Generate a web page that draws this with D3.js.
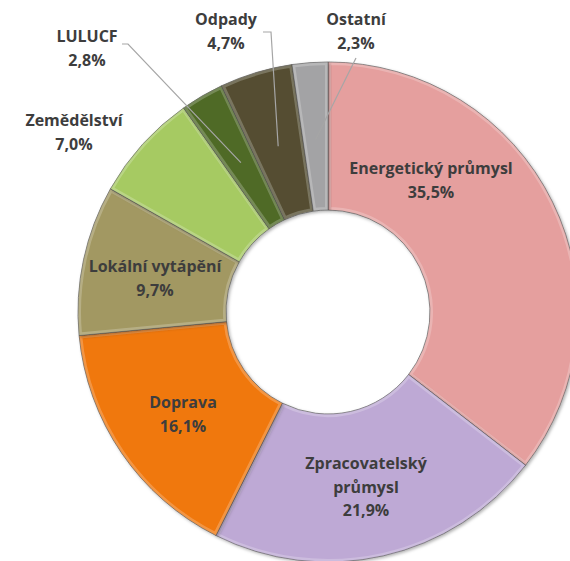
<!DOCTYPE html>
<html lang="cs">
<head>
    <meta charset="UTF-8">
    <title>Emise podle sektorů</title>
    <script src="https://d3js.org/d3.v7.min.js"></script>
    <style>
        body {
            margin: 0;
            background: #fff;
        }
        .label {
            font-family: "Open Sans", Lato, sans-serif;
            font-weight: bold;
            font-size: 16px;
            fill: #3d3d3d;
            text-anchor: middle;
        }
        .leader {
            fill: none;
            stroke: #a6a6a6;
            stroke-width: 1.2px;
        }
        .slice {
            stroke: rgba(60, 60, 60, 0.6);
            stroke-width: 1px;
        }
        .edge {
            fill: none;
            stroke: #ffffff;
            stroke-opacity: 0.22;
            stroke-width: 6px;
        }
    </style>
</head>
<body>
<div id="chart"></div>

<script>
    // data
    var sectors = ["Energetický průmysl", "Zpracovatelský průmysl", "Doprava", "Lokální vytápění",
                   "Zemědělství", "LULUCF", "Odpady", "Ostatní"];
    var shares = [35.5, 21.9, 16.1, 9.7, 7.0, 2.8, 4.7, 2.3];
    var colours = ["#e59f9e", "#bea9d5", "#f0780f", "#a29862", "#a6ca62", "#4f6a27", "#544d31", "#a3a3a5"];
    // how each label is broken into lines
    var labelLines = [["Energetický průmysl"], ["Zpracovatelský", "průmysl"], ["Doprava"], ["Lokální vytápění"],
                      ["Zemědělství"], ["LULUCF"], ["Odpady"], ["Ostatní"]];

    function init() {
        var w = 570;
        var h = 561;
        var cx = 328, cy = 312;
        var outerR = 250, innerR = 102;

        // label placement (first baseline), relative to the chart centre
        var labelAt = [[103, -138], [38, 157], [-145, 96], [-173, -40], [-254, -186], [-241, -270], [-102, -287], [28, -287]];
        // elbow of the leader lines for the outside labels (null = none)
        var elbows = [null, null, null, null, null, [[-206, -268], [-200, -268]], [[-65, -280], [-57, -280]], [[28, -254]]];

        var data = sectors.map(function(s, i) {
            return { name: s, value: shares[i], colour: colours[i], lines: labelLines[i], i: i };
        });

        var pie = d3.pie()
            .sort(null)
            .value(function(d) { return d.value; });

        var arc = d3.arc()
            .innerRadius(innerR)
            .outerRadius(outerR);

        var midArc = d3.arc()
            .innerRadius(173)
            .outerRadius(173);

        var svg = d3.select("#chart")
            .append("svg")
            .attr("width", w)
            .attr("height", h);

        var defs = svg.append("defs");
        var shadow = defs.append("filter")
            .attr("id", "shadow")
            .attr("x", "-10%").attr("y", "-10%")
            .attr("width", "120%").attr("height", "120%");
        shadow.append("feDropShadow")
            .attr("dx", 1.5).attr("dy", 1.5)
            .attr("stdDeviation", 1.5)
            .attr("flood-color", "#000")
            .attr("flood-opacity", 0.3);

        var g = svg.append("g")
            .attr("transform", "translate(" + cx + "," + cy + ")");

        var arcs = pie(data);

        // clip paths so the lighter edge band stays inside each slice
        defs.selectAll("clipPath")
            .data(arcs)
            .enter()
            .append("clipPath")
            .attr("id", function(d) { return "clip" + d.data.i; })
            .append("path")
            .attr("d", arc);

        var slices = g.selectAll("g.sl")
            .data(arcs)
            .enter()
            .append("g")
            .attr("class", "sl")
            .attr("filter", "url(#shadow)");

        slices.append("path")
            .attr("class", "slice")
            .attr("d", arc)
            .attr("fill", function(d) { return d.data.colour; });

        slices.append("path")
            .attr("class", "edge")
            .attr("d", arc)
            .attr("clip-path", function(d) { return "url(#clip" + d.data.i + ")"; });

        // leader lines for the small slices
        var line = d3.line();
        g.selectAll("path.leader")
            .data(arcs.filter(function(d) { return elbows[d.data.i]; }))
            .enter()
            .append("path")
            .attr("class", "leader")
            .attr("d", function(d) {
                var pts = elbows[d.data.i].slice();
                pts.push(midArc.centroid(d));
                return line(pts);
            });

        // labels
        var labels = g.selectAll("text.label")
            .data(arcs)
            .enter()
            .append("text")
            .attr("class", "label")
            .attr("x", function(d) { return labelAt[d.data.i][0]; })
            .attr("y", function(d) { return labelAt[d.data.i][1]; });

        labels.each(function(d) {
            var t = d3.select(this);
            var lines = d.data.lines.concat([d3.format(".1f")(d.data.value).replace(".", ",") + "%"]);
            lines.forEach(function(l, k) {
                t.append("tspan")
                    .attr("x", labelAt[d.data.i][0])
                    .attr("dy", k === 0 ? 0 : 23.5)
                    .text(l);
            });
        });
    }

    init();
</script>
</body>
</html>
